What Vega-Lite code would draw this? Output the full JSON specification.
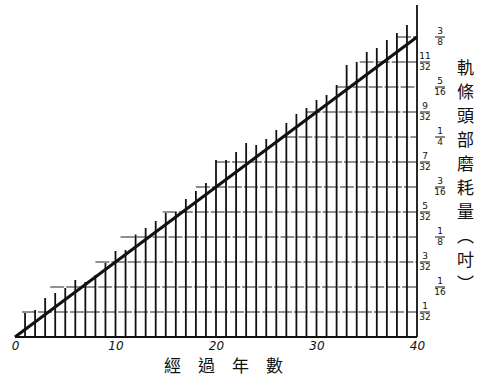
{
  "$schema": "https://vega.github.io/schema/vega-lite/v6.json",
  "width": 402,
  "height": 332,
  "autosize": {"type": "none"},
  "padding": {"left": 15, "top": 5, "right": 63, "bottom": 42},
  "background": "white",
  "config": {"view": {"stroke": null}},
  "datasets": {
    "bars": [
      {"year": 1, "top": 0.96}, {"year": 2, "top": 1.08}, {"year": 3, "top": 1.56}, {"year": 4, "top": 1.76},
      {"year": 5, "top": 1.96}, {"year": 6, "top": 2.28}, {"year": 7, "top": 2.2}, {"year": 8, "top": 2.48},
      {"year": 9, "top": 2.96}, {"year": 10, "top": 3.44}, {"year": 11, "top": 3.48}, {"year": 12, "top": 4.1},
      {"year": 13, "top": 4.36}, {"year": 14, "top": 4.64}, {"year": 15, "top": 4.96}, {"year": 16, "top": 5.0},
      {"year": 17, "top": 5.52}, {"year": 18, "top": 5.84}, {"year": 19, "top": 6.16}, {"year": 20, "top": 7.08},
      {"year": 21, "top": 7.08}, {"year": 22, "top": 7.4}, {"year": 23, "top": 7.76}, {"year": 24, "top": 7.68},
      {"year": 25, "top": 7.92}, {"year": 26, "top": 8.28}, {"year": 27, "top": 8.56}, {"year": 28, "top": 8.92},
      {"year": 29, "top": 9.16}, {"year": 30, "top": 9.48}, {"year": 31, "top": 9.68}, {"year": 32, "top": 10.08},
      {"year": 33, "top": 10.88}, {"year": 34, "top": 11.0}, {"year": 35, "top": 11.4}, {"year": 36, "top": 11.56},
      {"year": 37, "top": 11.88}, {"year": 38, "top": 12.16}, {"year": 39, "top": 12.48}, {"year": 40, "top": 13.28}
    ],
    "grid": [
      {"level": 1, "start": 0.7}, {"level": 2, "start": 3.5}, {"level": 3, "start": 8}, {"level": 4, "start": 10.5},
      {"level": 5, "start": 14.7}, {"level": 6, "start": 18}, {"level": 7, "start": 20}, {"level": 8, "start": 26.6},
      {"level": 9, "start": 29}, {"level": 10, "start": 32}, {"level": 11, "start": 34.3}, {"level": 12, "start": 38}
    ],
    "trend": [
      {"year": 0, "wear": 0}, {"year": 40, "wear": 12}
    ],
    "labels": [
      {"level": 1, "num": "1", "den": "32"}, {"level": 2, "num": "1", "den": "16"},
      {"level": 3, "num": "3", "den": "32"}, {"level": 4, "num": "1", "den": "8"},
      {"level": 5, "num": "5", "den": "32"}, {"level": 6, "num": "3", "den": "16"},
      {"level": 7, "num": "7", "den": "32"}, {"level": 8, "num": "1", "den": "4"},
      {"level": 9, "num": "9", "den": "32"}, {"level": 10, "num": "5", "den": "16"},
      {"level": 11, "num": "11", "den": "32"}, {"level": 12, "num": "3", "den": "8"}
    ]
  },
  "layer": [
    {
      "data": {"name": "grid"},
      "mark": {"type": "rule", "color": "#222", "strokeWidth": 1.2, "strokeDash": [14, 2]},
      "encoding": {
        "x": {"field": "start", "type": "quantitative", "scale": {"domain": [0, 40], "nice": false},
          "axis": {"values": [0, 10, 20, 30, 40], "domain": false, "ticks": false, "grid": false, "labelFlush": false,
            "labelFont": "DejaVu Sans", "labelFontStyle": "italic", "labelFontSize": 12, "labelColor": "#111", "labelPadding": 3,
            "title": "經　過　年　數", "titleFont": "Noto Sans CJK TC", "titleFontSize": 17, "titleFontWeight": "normal",
            "titleColor": "#111", "titlePadding": 7, "titleX": 208}},
        "x2": {"datum": 40},
        "y": {"field": "level", "type": "quantitative", "scale": {"domain": [0, 13.28], "nice": false, "zero": true},
          "axis": {"orient": "right", "labels": false, "ticks": false, "domain": false, "grid": false,
            "title": ["軌", "條", "頭", "部", "磨", "耗", "量", "︵", "吋", "︶"], "titleAngle": 0,
            "titleX": 48, "titleY": 63, "titleAlign": "center", "titleBaseline": "middle",
            "titleFont": "Noto Sans CJK TC", "titleFontSize": 17, "titleFontWeight": "normal",
            "titleLineHeight": 24, "titleColor": "#111"}}
      }
    },
    {
      "data": {"name": "bars"},
      "mark": {"type": "rule", "color": "#111", "strokeWidth": 1.8},
      "encoding": {
        "x": {"field": "year", "type": "quantitative"},
        "y": {"field": "top", "type": "quantitative"},
        "y2": {"datum": 0}
      }
    },
    {
      "data": {"name": "trend"},
      "mark": {"type": "rule", "color": "#111", "strokeWidth": 2.2},
      "encoding": {
        "x": {"datum": 0, "type": "quantitative"},
        "x2": {"datum": 40},
        "y": {"datum": 0, "type": "quantitative"}
      }
    },
    {
      "data": {"name": "labels"},
      "transform": [{"filter": "datum.level % 2 == 1"}],
      "layer": [
        {"mark": {"type": "text", "font": "DejaVu Sans", "fontSize": 9, "color": "#111", "align": "center", "baseline": "bottom", "dx": 8, "dy": -1},
          "encoding": {"text": {"field": "num"}}},
        {"mark": {"type": "text", "font": "DejaVu Sans", "fontSize": 9, "color": "#111", "align": "center", "baseline": "top", "dx": 8, "dy": 1},
          "encoding": {"text": {"field": "den"}}},
        {"mark": {"type": "rule", "color": "#111", "strokeWidth": 1, "xOffset": 3, "x2Offset": 13},
          "encoding": {"x2": {"datum": 40}}}
      ],
      "encoding": {
        "x": {"datum": 40, "type": "quantitative"},
        "y": {"field": "level", "type": "quantitative"}
      }
    },
    {
      "data": {"name": "labels"},
      "transform": [{"filter": "datum.level % 2 == 0"}],
      "layer": [
        {"mark": {"type": "text", "font": "DejaVu Sans", "fontSize": 9, "color": "#111", "align": "center", "baseline": "bottom", "dx": 23, "dy": -1},
          "encoding": {"text": {"field": "num"}}},
        {"mark": {"type": "text", "font": "DejaVu Sans", "fontSize": 9, "color": "#111", "align": "center", "baseline": "top", "dx": 23, "dy": 1},
          "encoding": {"text": {"field": "den"}}},
        {"mark": {"type": "rule", "color": "#111", "strokeWidth": 1, "xOffset": 18, "x2Offset": 28},
          "encoding": {"x2": {"datum": 40}}}
      ],
      "encoding": {
        "x": {"datum": 40, "type": "quantitative"},
        "y": {"field": "level", "type": "quantitative"}
      }
    },
    {
      "data": {"name": "trend"},
      "mark": {"type": "line", "color": "#111", "strokeWidth": 3},
      "encoding": {
        "x": {"field": "year", "type": "quantitative"},
        "y": {"field": "wear", "type": "quantitative"}
      }
    }
  ]
}
